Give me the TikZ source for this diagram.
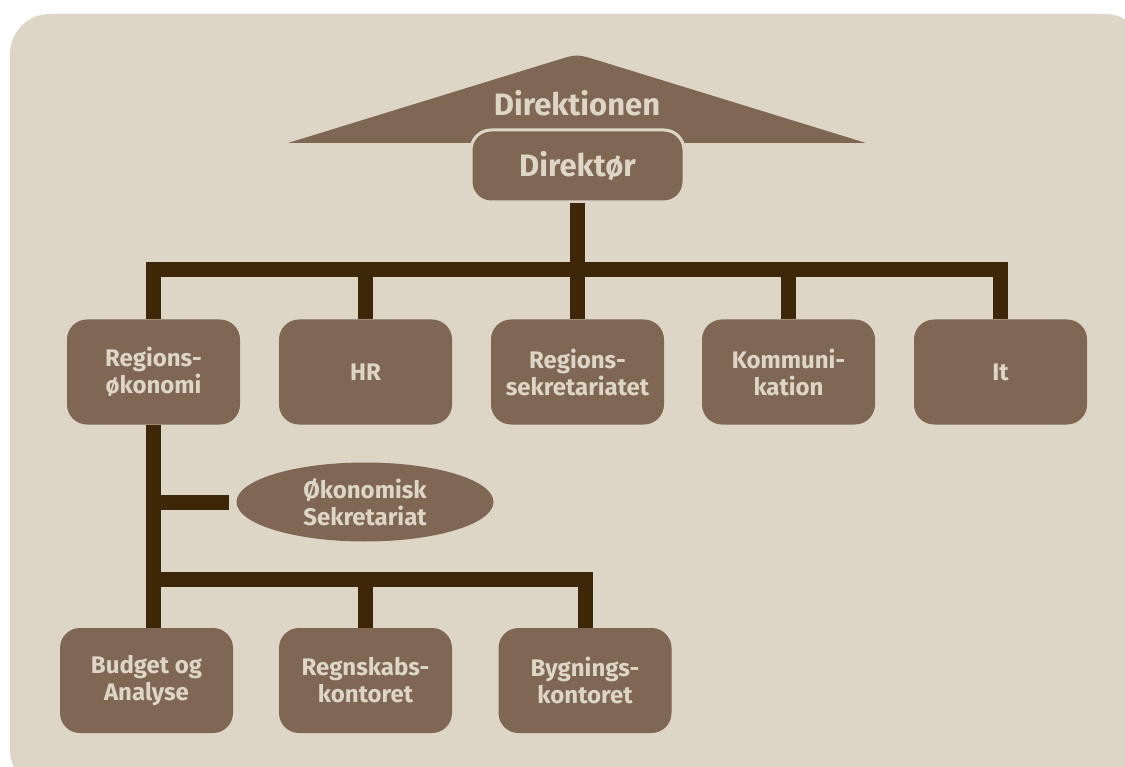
\documentclass[tikz,border=0pt]{standalone}
\usepackage{fontspec}
\setmainfont{Fira Sans}
\usetikzlibrary{shapes.geometric,calc}
\definecolor{panel}{HTML}{DDD6C7}
\definecolor{boxc}{HTML}{7F6754}
\definecolor{txt}{HTML}{DDD6C7}
\definecolor{conn}{HTML}{3E2708}
\begin{document}
\begin{tikzpicture}[x=1pt,y=-1pt,
  unit/.style={rounded corners=20pt, fill=boxc, text=txt, minimum width=173pt,
    minimum height=105pt, inner sep=0pt, align=center,
    font=\fontsize{24}{27}\selectfont\bfseries},
  oval/.style={ellipse, fill=boxc, text=txt, minimum width=257pt, minimum height=79pt,
    inner sep=0pt, align=center, font=\fontsize{24}{27}\selectfont\bfseries},
  link/.style={draw=conn, line width=15pt},
  bar/.style={link, line cap=rect}]
% page and panel
\useasboundingbox (0,0) rectangle (1125,767);
\fill[white] (0,0) rectangle (1125,767);
\fill[panel, rounded corners=40pt] (10,14) rectangle (1145,790);

% board of directors: wide roof with a rounded apex
\fill[boxc] (288,143) -- (556.8,60.2) .. controls (577,54) .. (597.2,60.2)
  -- (866,143) -- cycle;
\node[text=txt, font=\fontsize{31}{34}\selectfont\bfseries] (board) at (577,103) {Direktionen};
\node[unit, draw=panel, line width=3pt, minimum width=213pt, minimum height=72pt,
  font=\fontsize{31}{34}\selectfont\bfseries] (dir) at (577.5,166) {Direktør};

% departments
\node[unit] (reg) at (153.5,372) {Regions-\\økonomi};
\node[unit] (hr)  at (365.5,372) {HR};
\node[unit] (sek) at (577.5,372) {Regions-\\sekretariatet};
\node[unit] (kom) at (788.5,372) {Kommuni-\\kation};
\node[unit] (it)  at (1000.5,372) {It};

% finance sub-units
\node[oval] (eco) at (365,502) {Økonomisk\\Sekretariat};
\node[unit] (bud)  at (146.5,680.5) {Budget og\\Analyse};
\node[unit] (regn) at (365.5,680.5) {Regnskabs-\\kontoret};
\node[unit] (byg)  at (585,680.5) {Bygnings-\\kontoret};

% top level connectors
\coordinate (bus) at (577.5,270);
\draw[link] (dir.south) -- (dir.south |- bus);
\draw[bar] (reg.north |- bus) -- (it.north |- bus);
\foreach \n in {reg,hr,sek,kom,it}
  \draw[link] (\n.north |- bus) -- (\n.north);

% finance connectors
\coordinate (lowbus) at (154,579);
\draw[link] (reg.south) -- (reg.south |- bud.north);
\draw[link, shorten >=7pt] (reg.south |- eco.west) -- (eco.west);
\draw[bar] (reg.south |- lowbus) -- (byg.north |- lowbus);
\foreach \n in {regn,byg}
  \draw[link] (\n.north |- lowbus) -- (\n.north);
\end{tikzpicture}
\end{document}
